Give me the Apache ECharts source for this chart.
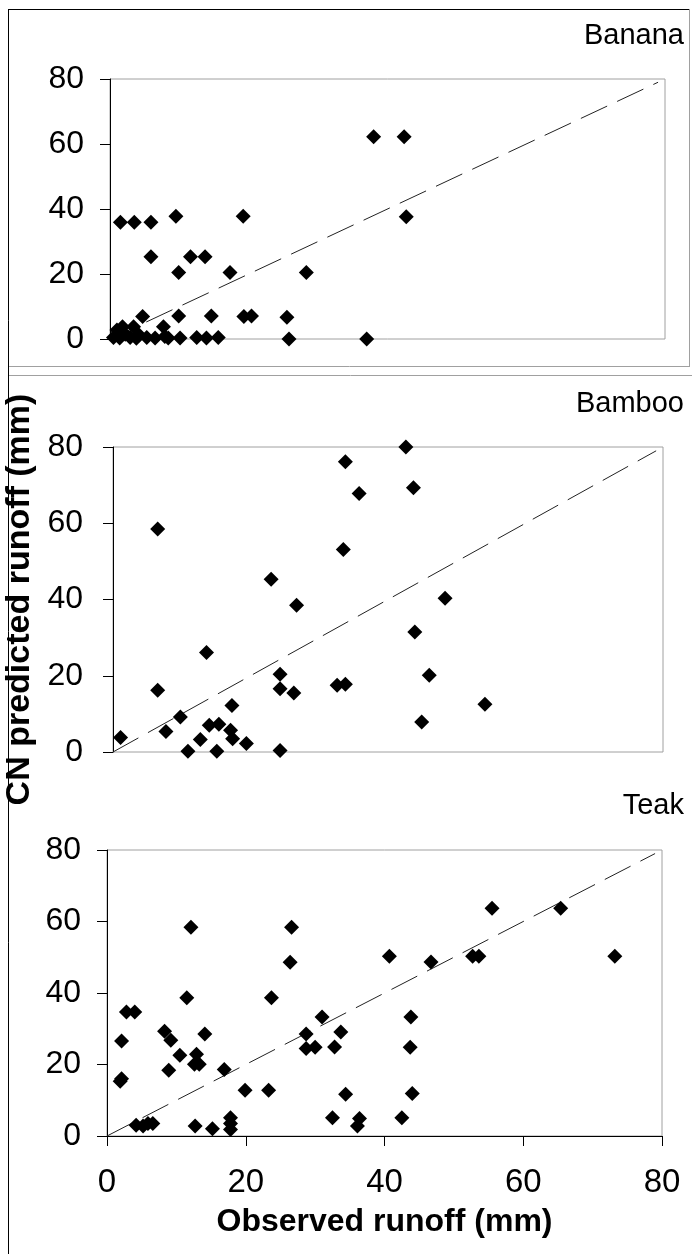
<!DOCTYPE html>
<html>
<head>
<meta charset="utf-8">
<script src="https://cdn.jsdelivr.net/npm/echarts@6/dist/echarts.min.js"></script>
<style>
  html, body { margin: 0; padding: 0; background: #fff; }
  #chart { width: 692px; height: 1254px; }
</style>
</head>
<body>
<div id="chart"></div>
<script>
// ---- Data (observed runoff, CN predicted runoff), mm ----
const panelNames = ['Banana', 'Bamboo', 'Teak'];
const axisTicks = [0, 20, 40, 60, 80];
const lineOfEquality = [0, 79];

const bananaObserved = [38.0, 42.4, 42.7, 19.2, 9.5, 1.5, 3.5, 5.9, 5.9, 11.6, 13.7, 9.9, 17.3, 28.3, 4.7, 9.9, 14.6, 19.3, 20.4, 25.5, 7.7, 25.8, 37.0, 15.6, 13.9, 12.5, 10.1, 8.4, 7.9, 6.5, 5.3, 3.8, 2.9, 1.4, 0.5, 1.0, 1.8, 3.4, 2.2, 4.2];
const bananaPredicted = [62.2, 62.2, 37.6, 37.8, 37.8, 35.9, 35.9, 35.9, 25.3, 25.3, 25.3, 20.5, 20.5, 20.5, 6.9, 7.1, 7.1, 6.9, 7.1, 6.7, 3.8, 0.0, 0.0, 0.5, 0.3, 0.5, 0.3, 0.3, 0.8, 0.3, 0.5, 0.2, 0.5, 0.3, 0.5, 2.8, 3.8, 3.8, 1.5, 1.2];

const bambooObserved = [42.6, 43.7, 48.3, 43.9, 46.0, 54.1, 44.9, 33.8, 35.8, 33.5, 6.5, 23.0, 26.7, 13.6, 6.5, 24.3, 24.3, 26.3, 32.6, 33.8, 17.3, 9.8, 7.7, 1.1, 12.7, 14.0, 15.4, 17.1, 17.4, 19.4, 10.9, 15.1, 24.3];
const bambooPredicted = [80.0, 69.3, 40.3, 31.5, 20.1, 12.5, 7.9, 76.1, 67.8, 53.1, 58.5, 45.3, 38.5, 26.1, 16.2, 20.4, 16.6, 15.5, 17.5, 17.8, 12.2, 9.2, 5.4, 3.8, 3.3, 7.0, 7.3, 5.7, 3.5, 2.2, 0.2, 0.2, 0.4];

const teakObserved = [12.1, 26.6, 26.4, 40.7, 11.5, 23.7, 2.8, 4.0, 2.1, 8.3, 9.2, 14.1, 10.5, 12.9, 12.6, 13.3, 8.9, 16.9, 1.9, 2.1, 19.9, 23.3, 31.0, 28.7, 28.7, 30.0, 32.8, 33.7, 34.4, 32.5, 36.4, 36.1, 4.2, 5.2, 6.6, 5.9, 12.7, 15.2, 17.8, 17.8, 17.8, 55.5, 65.4, 46.7, 52.7, 53.6, 73.2, 43.8, 43.7, 44.0, 42.5];
const teakPredicted = [58.4, 58.4, 48.6, 50.3, 38.7, 38.7, 34.7, 34.7, 26.6, 29.3, 26.8, 28.5, 22.6, 22.9, 20.1, 20.1, 18.4, 18.6, 15.3, 16.0, 12.8, 12.8, 33.3, 28.5, 24.5, 24.8, 24.9, 29.1, 11.7, 5.1, 4.9, 2.8, 3.0, 2.8, 3.5, 3.5, 2.8, 2.0, 5.1, 3.5, 1.8, 63.7, 63.7, 48.7, 50.3, 50.3, 50.3, 33.3, 24.8, 11.9, 5.1];

const xTitle = 'Observed runoff (mm)';
const yTitle = 'CN predicted runoff (mm)';

// ---- Build ----
function pairs(xs, ys) { return xs.map((x, i) => [x, ys[i]]); }
const panels = [pairs(bananaObserved, bananaPredicted), pairs(bambooObserved, bambooPredicted), pairs(teakObserved, teakPredicted)];

const tickFont = "'Liberation Sans', Arial, sans-serif";
const plainFont = "'Liberation Sans', Arial, sans-serif";

const grids = [
  { left: 110, right: 27, top: 79, height: 260 },
  { left: 113, right: 29, top: 447, height: 305 },
  { left: 107, right: 30, top: 850, height: 286 }
].map(g => Object.assign(g, { show: true, borderColor: '#a0a0a0', borderWidth: 1, backgroundColor: '#fff', containLabel: false, outerBoundsMode: 'none' }));

const xAxes = grids.map((g, i) => {
  const last = i === 2;
  return {
    type: 'value', gridIndex: i, min: axisTicks[0], max: axisTicks[axisTicks.length - 1], interval: 20,
    axisLine: { show: last, onZero: false, lineStyle: { color: '#000', width: 1 } },
    axisTick: { show: last, length: 10, lineStyle: { color: '#000' } },
    axisLabel: { show: last, margin: 30, fontSize: 33, color: '#000', fontFamily: tickFont },
    splitLine: { show: false },
    name: last ? xTitle : '', nameLocation: 'middle', nameGap: 70,
    nameTextStyle: { fontSize: 32, fontWeight: 'bold', color: '#000', fontFamily: plainFont }
  };
});

const yMargins = [26, 30, 26];
const yAxes = grids.map((g, i) => ({
  type: 'value', gridIndex: i, min: axisTicks[0], max: axisTicks[axisTicks.length - 1], interval: 20,
  axisLine: { show: true, onZero: false, lineStyle: { color: '#000', width: 1 } },
  axisTick: { show: true, length: 10, lineStyle: { color: '#000' } },
  axisLabel: { margin: yMargins[i], fontSize: 32, color: '#000', fontFamily: tickFont },
  splitLine: { show: false },
  name: i === 1 ? yTitle : '', nameLocation: 'middle', nameGap: 68, nameRotate: 90,
  nameTextStyle: { fontSize: 34, fontWeight: 'bold', color: '#000', fontFamily: plainFont }
}));

const series = [];
panels.forEach((pts, i) => {
  series.push({
    type: 'line', xAxisIndex: i, yAxisIndex: i, silent: true, symbol: 'none', z: 1,
    data: [[lineOfEquality[0], lineOfEquality[0]], [lineOfEquality[1], lineOfEquality[1]]],
    lineStyle: { color: '#222', width: 1, type: [29, 11] }
  });
  series.push({
    type: 'scatter', xAxisIndex: i, yAxisIndex: i, symbol: 'diamond', symbolSize: 15, z: 3,
    itemStyle: { color: '#000', opacity: 1 }, data: pts
  });
});

const titleTops = [16, 384, 786];
const titles = panelNames.map((n, i) => ({
  text: n, right: 3, top: titleTops[i],
  textStyle: { fontSize: 29, fontWeight: 'normal', color: '#000', fontFamily: plainFont }
}));

const chart = echarts.init(document.getElementById('chart'), null, { renderer: 'canvas' });
chart.setOption({
  animation: false,
  backgroundColor: '#fff',
  title: titles,
  grid: grids,
  xAxis: xAxes,
  yAxis: yAxes,
  series: series,
  graphic: [
    { type: 'line', shape: { x1: 8.5, y1: 9, x2: 8.5, y2: 1254 }, style: { stroke: '#000', lineWidth: 1 }, silent: true },
    { type: 'line', shape: { x1: 8, y1: 9.5, x2: 690, y2: 9.5 }, style: { stroke: '#000', lineWidth: 1 }, silent: true },
    { type: 'line', shape: { x1: 689.5, y1: 9, x2: 689.5, y2: 366 }, style: { stroke: '#a0a0a0', lineWidth: 1 }, silent: true },
    { type: 'line', shape: { x1: 9, y1: 366.5, x2: 690, y2: 366.5 }, style: { stroke: '#a0a0a0', lineWidth: 1 }, silent: true },
    { type: 'line', shape: { x1: 9, y1: 375.5, x2: 692, y2: 375.5 }, style: { stroke: '#a0a0a0', lineWidth: 1 }, silent: true }
  ]
});
</script>
</body>
</html>
